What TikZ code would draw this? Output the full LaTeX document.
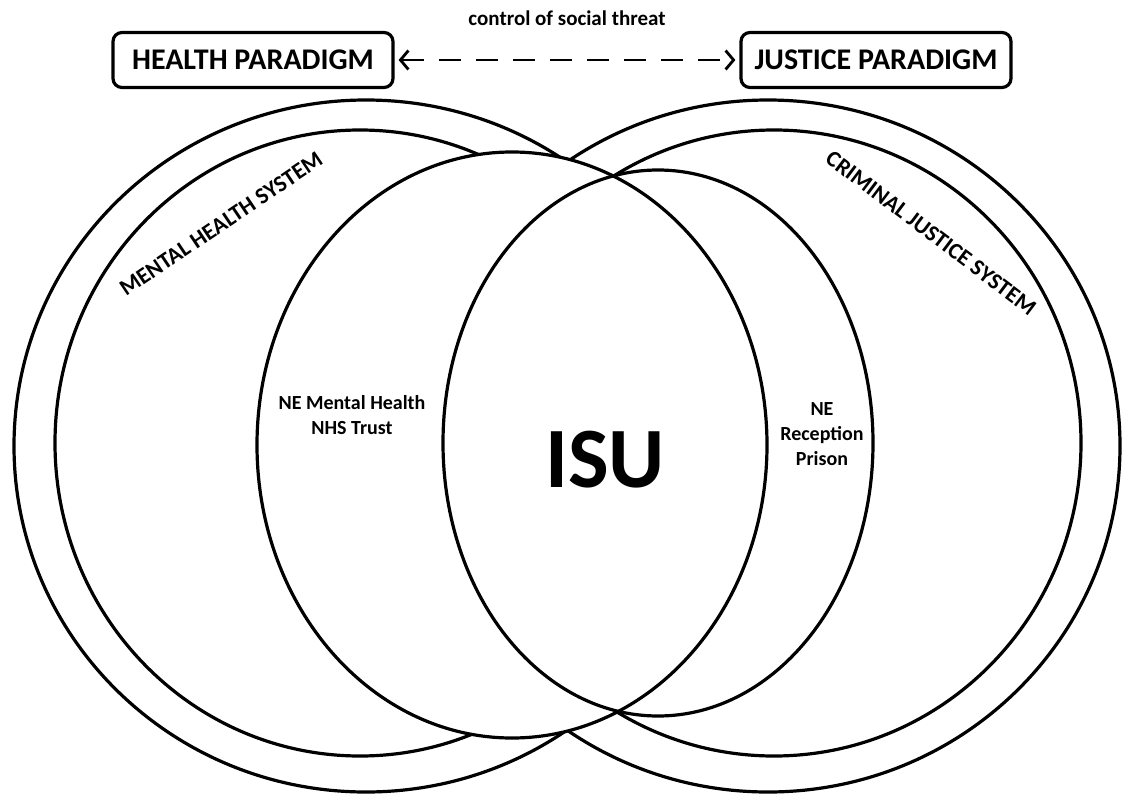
\documentclass[tikz,border=0pt]{standalone}
\usepackage{fontspec}
\setmainfont{Carlito}
\usetikzlibrary{arrows.meta, positioning}

\begin{document}
\begin{tikzpicture}[x=1pt, y=-1pt, line width=3.2pt,
        paradigm/.style={draw, rounded corners=9pt, minimum width=280pt, minimum height=55pt,
            inner sep=0pt, font=\fontsize{30}{35}\selectfont\bfseries},
        ring/.style={draw},
        sysname/.style={font=\fontsize{23}{27}\selectfont\bfseries},
        orgname/.style={font=\fontsize{20}{25}\selectfont\bfseries, align=center},
        link/.style={{Straight Barb[length=8pt,width=19pt]}-{Straight Barb[length=8pt,width=19pt]},
            dash pattern=on 22pt off 15pt, line width=2.8pt, shorten <=4pt, shorten >=4pt}]
    \useasboundingbox (0,0) rectangle (1122,795);
    % paradigms
    \node[paradigm] (health) at (253,60) {HEALTH PARADIGM};
    \node[paradigm, minimum width=270pt] (justice) at (876,60) {JUSTICE PARADIGM};
    \draw[link] (health) -- node[yshift=42pt, font=\fontsize{21}{25}\selectfont\bfseries] (threat) {control of social threat} (justice);
    % system rings
    \draw[ring] (366,446) ellipse [x radius=352, y radius=346];
    \draw[ring] (768,446) ellipse [x radius=352, y radius=346];
    \draw[ring] (360,443) ellipse [x radius=305, y radius=313];
    \draw[ring] (774,443) ellipse [x radius=307, y radius=313];
    % trust and prison, overlap = ISU
    \fill[white] (512,445) ellipse [x radius=255, y radius=293];
    \fill[white] (658,443) ellipse [x radius=215, y radius=273];
    \draw (512,445) ellipse [x radius=255, y radius=293];
    \draw (658,443) ellipse [x radius=215, y radius=273];
    % labels
    \node[sysname, rotate=34] (mhs) at (221,224) {MENTAL HEALTH SYSTEM};
    \node[sysname, rotate=-37] (cjs) at (931,233) {CRIMINAL JUSTICE SYSTEM};
    \node[orgname] (trust) at (352,415) {NE Mental Health\\NHS Trust};
    \node[orgname] (prison) at (822,434) {NE\\Reception\\Prison};
    \node[font=\fontsize{86}{92}\selectfont\bfseries] (isu) at (605,460) {ISU};
\end{tikzpicture}
\end{document}
